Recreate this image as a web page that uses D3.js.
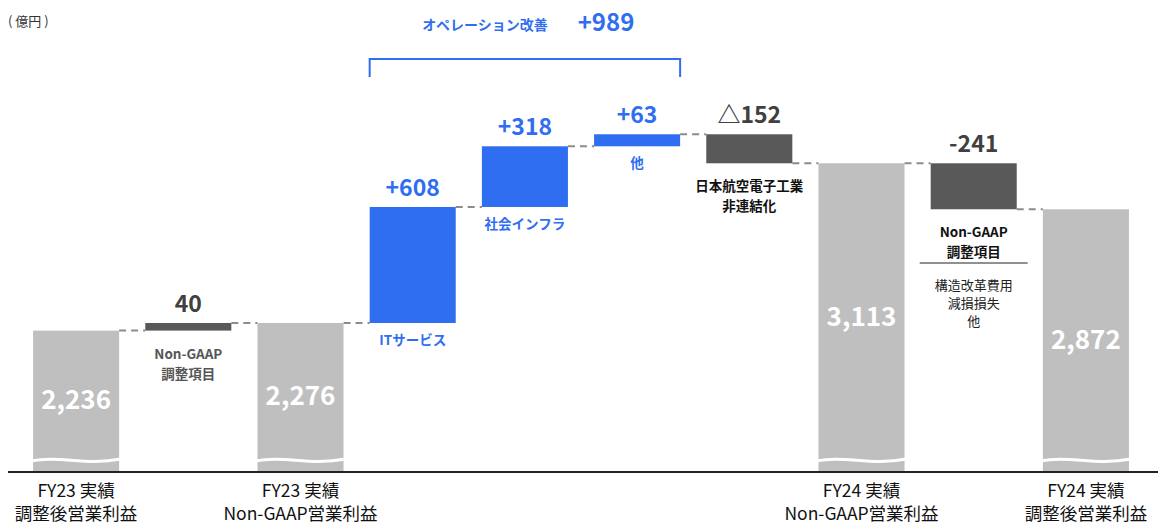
<!DOCTYPE html>
<html><head><meta charset="utf-8">
<script src="https://cdn.jsdelivr.net/npm/d3@7"></script>
<style>body{margin:0;background:#fff}text{font-family:"Noto Sans CJK JP","Noto Sans",sans-serif}</style>
</head><body><svg id="c" width="1165" height="529"></svg>
<script>
const categories = ["FY23実績調整後","NonGAAP調整1","FY23実績NonGAAP","ITサービス","社会インフラ","他","日本航空電子工業","FY24実績NonGAAP","NonGAAP調整2","FY24実績調整後"];
const values = [2236, 40, 2276, 608, 318, 63, -152, 3113, -241, 2872];
const kinds = ["total","dark","total","blue","blue","blue","dark","total","dark","total"];
const deltaLabels = ["2,236","40","2,276","+608","+318","+63","△152","3,113","-241","2,872"];
const bottomLabels = [["FY23 実績","調整後営業利益"],null,["FY23 実績","Non-GAAP営業利益"],null,null,null,null,["FY24 実績","Non-GAAP営業利益"],null,["FY24 実績","調整後営業利益"]];
const subLabels = [null,["Non-GAAP","調整項目"],null,["ITサービス"],["社会インフラ"],["他"],["日本航空電子工業","非連結化"],null,["Non-GAAP","調整項目"],null];

const svg = d3.select("#c");
const x = d3.scaleBand().domain(d3.range(categories.length)).range([20,1142]).paddingInner(0.233).paddingOuter(0.1165);
const y = d3.scaleLinear().domain([1495,3300]).range([472,127.6]);
const col = {total:"#bfbfbf", dark:"#595959", blue:"#2f6ef0"};
const txtCol = {dark:"#404040", blue:"#2f6ef0"};

// compute bars
let run = 0; const bars = [];
values.forEach((v,i)=>{
  if(kinds[i]==="total"){ bars.push({i,lo:y.domain()[0],hi:v,end:v}); run=v; }
  else { const a=run, b=run+v; bars.push({i,lo:Math.min(a,b),hi:Math.max(a,b),end:b}); run=b; }
});
// connectors
bars.forEach((b,k)=>{
  if(k===bars.length-1) return;
  const lv=b.end;
  svg.append("line").attr("x1",x(k)+x.bandwidth()).attr("x2",x(k+1)).attr("y1",y(lv)).attr("y2",y(lv))
    .attr("stroke","#8c8c8c").attr("stroke-width",2).attr("stroke-dasharray","7,5");
});
svg.selectAll("rect.b").data(bars).join("rect").attr("x",d=>x(d.i)).attr("width",x.bandwidth())
  .attr("y",d=>y(d.hi)).attr("height",d=>y(d.lo)-y(d.hi)).attr("fill",d=>col[kinds[d.i]]);
// wavy breaks
bars.filter(d=>kinds[d.i]==="total").forEach(d=>{
  const x0=x(d.i), w=x.bandwidth();
  const p=d3.path(); p.moveTo(x0-2,461); p.bezierCurveTo(x0+w*0.3,455,x0+w*0.6,466,x0+w+2,459);
  svg.append("path").attr("d",p.toString()).attr("fill","none").attr("stroke","#fff").attr("stroke-width",3);
});
// axis
svg.append("line").attr("x1",8).attr("x2",1158).attr("y1",472).attr("y2",472).attr("stroke","#222").attr("stroke-width",2);
// labels
bars.forEach(d=>{
  const cx=x(d.i)+x.bandwidth()/2, k=kinds[d.i];
  if(k==="total"){
    svg.append("text").attr("x",cx).attr("y",(y(d.hi)+472)/2+8).attr("text-anchor","middle")
      .attr("fill","#fff").attr("font-size",26).attr("font-weight","bold").text(deltaLabels[d.i]);
  } else {
    svg.append("text").attr("x",cx).attr("y",y(d.hi)-11).attr("text-anchor","middle")
      .attr("fill",txtCol[k]).attr("font-size",23).attr("font-weight","bold").text(deltaLabels[d.i]);
  }
  const s=subLabels[d.i];
  if(s){
    const y0=y(d.lo)+ (k==="blue"? 22 : 28);
    s.forEach((t,j)=>svg.append("text").attr("x",cx).attr("y",y0+j*20).attr("text-anchor","middle")
      .attr("fill",k==="blue"?"#2f6ef0":(d.i===1?"#555":"#111")).attr("font-size",13.5).attr("font-weight","bold").text(t));
  }
  const bl=bottomLabels[d.i];
  if(bl) bl.forEach((t,j)=>svg.append("text").attr("x",cx).attr("y",497+j*23).attr("text-anchor","middle")
      .attr("fill","#111").attr("font-size",17.5).text(t));
});
// extra note under second Non-GAAP
const cx8=x(8)+x.bandwidth()/2;
svg.append("line").attr("x1",cx8-54).attr("x2",cx8+54).attr("y1",263).attr("y2",263).attr("stroke","#222").attr("stroke-width",1);
["構造改革費用","減損損失","他"].forEach((t,j)=>svg.append("text").attr("x",cx8).attr("y",290+j*18).attr("text-anchor","middle")
  .attr("fill","#222").attr("font-size",13).text(t));
// bracket
const bx1=x(3), bx2=x(5)+x.bandwidth();
svg.append("path").attr("d",`M${bx1},77V59H${bx2}V77`).attr("fill","none").attr("stroke","#2f6ef0").attr("stroke-width",2);
svg.append("text").attr("x",485).attr("y",30).attr("text-anchor","middle").attr("fill","#2f6ef0")
  .attr("font-size",14).attr("font-weight","bold").text("オペレーション改善");
svg.append("text").attr("x",606).attr("y",31).attr("text-anchor","middle").attr("fill","#2f6ef0")
  .attr("font-size",24).attr("font-weight","bold").text("+989");
svg.append("text").attr("x",8).attr("y",26).attr("fill","#333").attr("font-size",13).text("( 億円 )");
</script></body></html>
